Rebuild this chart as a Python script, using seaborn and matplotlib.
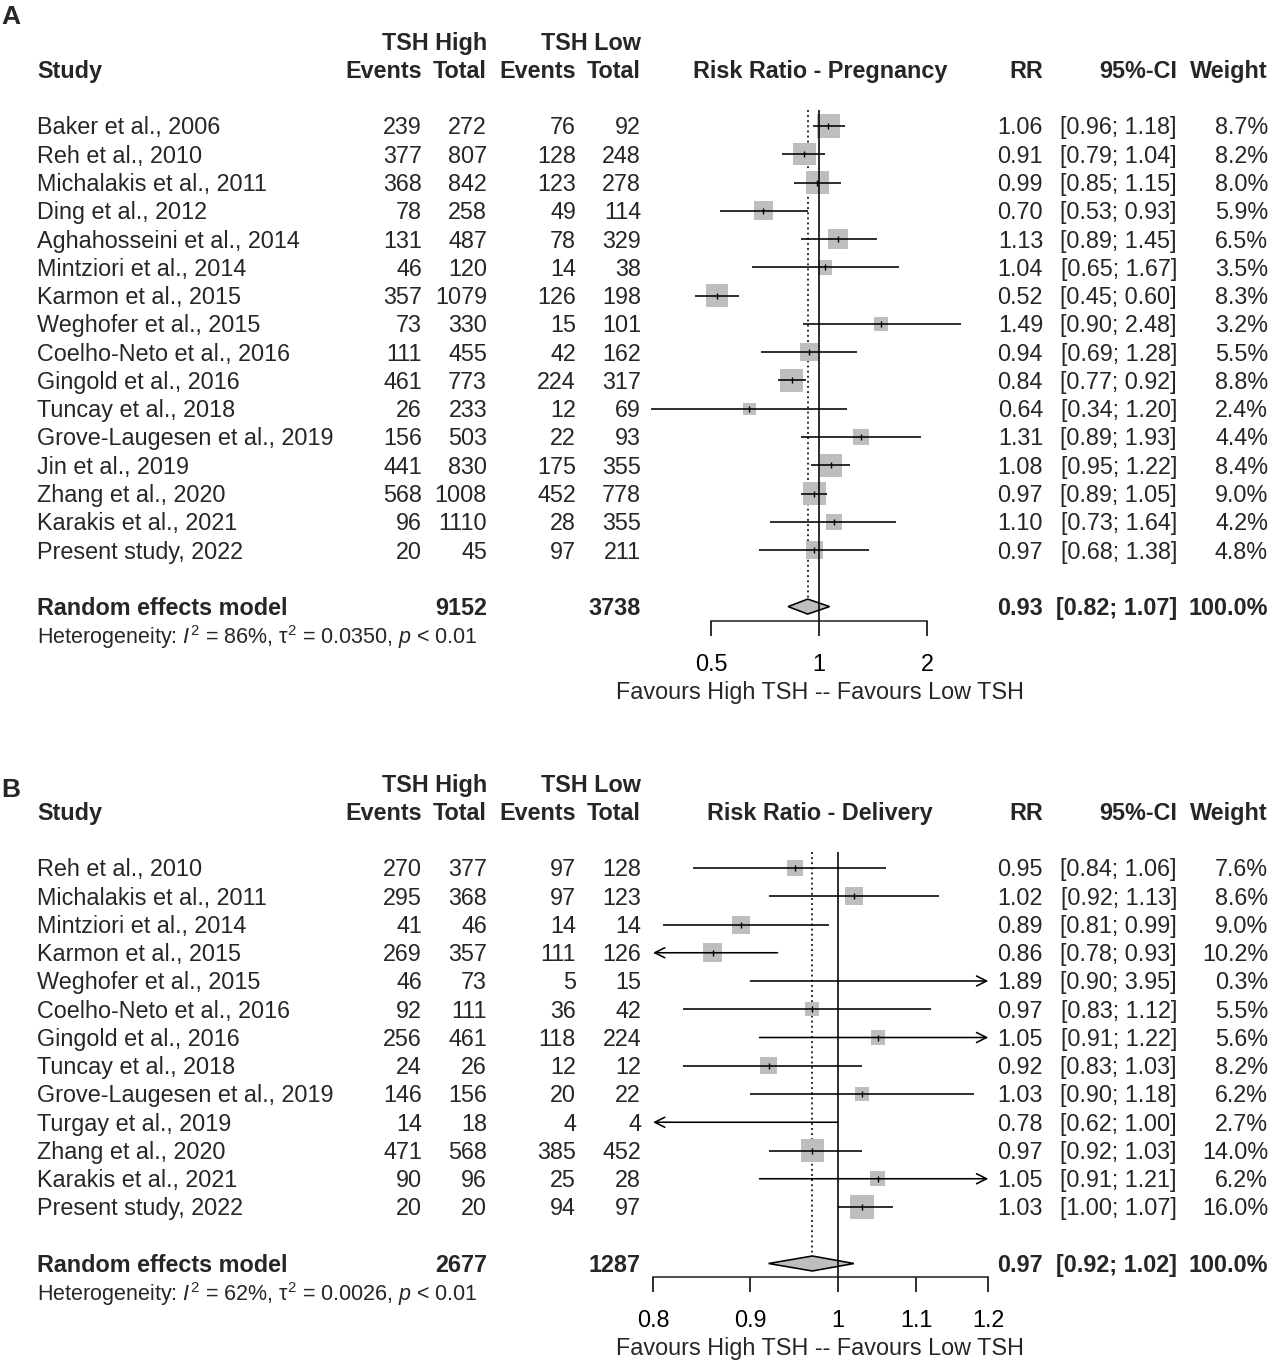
import numpy as np
import pandas as pd
import matplotlib
matplotlib.use("Agg")
import matplotlib.pyplot as plt
import matplotlib.transforms as mtransforms
from matplotlib.ticker import NullLocator, FixedLocator, FixedFormatter
import seaborn as sns

# ---- Panel A: pregnancy ----
studies_a = ["Baker et al., 2006", "Reh et al., 2010", "Michalakis et al., 2011", "Ding et al., 2012",
             "Aghahosseini et al., 2014", "Mintziori et al., 2014", "Karmon et al., 2015",
             "Weghofer et al., 2015", "Coelho-Neto et al., 2016", "Gingold et al., 2016",
             "Tuncay et al., 2018", "Grove-Laugesen et al., 2019", "Jin et al., 2019",
             "Zhang et al., 2020", "Karakis et al., 2021", "Present study, 2022"]
ev_high_a = [239, 377, 368, 78, 131, 46, 357, 73, 111, 461, 26, 156, 441, 568, 96, 20]
tot_high_a = [272, 807, 842, 258, 487, 120, 1079, 330, 455, 773, 233, 503, 830, 1008, 1110, 45]
ev_low_a = [76, 128, 123, 49, 78, 14, 126, 15, 42, 224, 12, 22, 175, 452, 28, 97]
tot_low_a = [92, 248, 278, 114, 329, 38, 198, 101, 162, 317, 69, 93, 355, 778, 355, 211]
rr_a = [1.06, 0.91, 0.99, 0.70, 1.13, 1.04, 0.52, 1.49, 0.94, 0.84, 0.64, 1.31, 1.08, 0.97, 1.10, 0.97]
lo_a = [0.96, 0.79, 0.85, 0.53, 0.89, 0.65, 0.45, 0.90, 0.69, 0.77, 0.34, 0.89, 0.95, 0.89, 0.73, 0.68]
hi_a = [1.18, 1.04, 1.15, 0.93, 1.45, 1.67, 0.60, 2.48, 1.28, 0.92, 1.20, 1.93, 1.22, 1.05, 1.64, 1.38]
weight_a = [8.7, 8.2, 8.0, 5.9, 6.5, 3.5, 8.3, 3.2, 5.5, 8.8, 2.4, 4.4, 8.4, 9.0, 4.2, 4.8]
pooled_a = {"n_high": 9152, "n_low": 3738, "rr": 0.93, "lo": 0.82, "hi": 1.07}
het_a = r"Heterogeneity: $I^2$ = 86%, τ$^2$ = 0.0350, $p$ < 0.01"
ticks_a = [0.5, 1, 2]
tick_labels_a = ["0.5", "1", "2"]

# ---- Panel B: delivery ----
studies_b = ["Reh et al., 2010", "Michalakis et al., 2011", "Mintziori et al., 2014", "Karmon et al., 2015",
             "Weghofer et al., 2015", "Coelho-Neto et al., 2016", "Gingold et al., 2016",
             "Tuncay et al., 2018", "Grove-Laugesen et al., 2019", "Turgay et al., 2019",
             "Zhang et al., 2020", "Karakis et al., 2021", "Present study, 2022"]
ev_high_b = [270, 295, 41, 269, 46, 92, 256, 24, 146, 14, 471, 90, 20]
tot_high_b = [377, 368, 46, 357, 73, 111, 461, 26, 156, 18, 568, 96, 20]
ev_low_b = [97, 97, 14, 111, 5, 36, 118, 12, 20, 4, 385, 25, 94]
tot_low_b = [128, 123, 14, 126, 15, 42, 224, 12, 22, 4, 452, 28, 97]
rr_b = [0.95, 1.02, 0.89, 0.86, 1.89, 0.97, 1.05, 0.92, 1.03, 0.78, 0.97, 1.05, 1.03]
lo_b = [0.84, 0.92, 0.81, 0.78, 0.90, 0.83, 0.91, 0.83, 0.90, 0.62, 0.92, 0.91, 1.00]
hi_b = [1.06, 1.13, 0.99, 0.93, 3.95, 1.12, 1.22, 1.03, 1.18, 1.00, 1.03, 1.21, 1.07]
weight_b = [7.6, 8.6, 9.0, 10.2, 0.3, 5.5, 5.6, 8.2, 6.2, 2.7, 14.0, 6.2, 16.0]
pooled_b = {"n_high": 2677, "n_low": 1287, "rr": 0.97, "lo": 0.92, "hi": 1.02}
het_b = r"Heterogeneity: $I^2$ = 62%, τ$^2$ = 0.0026, $p$ < 0.01"
ticks_b = [0.8, 0.9, 1, 1.1, 1.2]
tick_labels_b = ["0.8", "0.9", "1", "1.1", "1.2"]

W, H = 1273, 1363
FS = 16.8
GREY = "#BEBEBE"
LW = 1.15

sns.set_theme(style="ticks")
plt.rcParams["font.family"] = ["Liberation Sans", "DejaVu Sans"]
plt.rcParams["mathtext.fontset"] = "custom"
plt.rcParams["mathtext.rm"] = "Liberation Sans"
plt.rcParams["mathtext.it"] = "Liberation Sans:italic"
plt.rcParams["mathtext.bf"] = "Liberation Sans:bold"

fig = plt.figure(figsize=(W / 100, H / 100), dpi=100)
fig.patch.set_facecolor("white")

# background axes in pixel coordinates for text columns
bg = fig.add_axes([0, 0, 1, 1])
bg.set_xlim(0, W)
bg.set_ylim(H, 0)
bg.axis("off")


def px_axes(x0, x1, y0, y1):
    return fig.add_axes([x0 / W, 1 - y1 / H, (x1 - x0) / W, (y1 - y0) / H])


def draw_panel(letter, letter_y, title, studies, ev_h, tot_h, ev_l, tot_l, rr, lo, hi, wt,
               pooled, het, ticks, tick_labels, xlim, ax_px, row0, dy, box_side):
    n = len(studies)
    y_top = ax_px[2]
    y_bot = ax_px[3]
    ax = px_axes(*ax_px)
    ax.set_xscale("log")
    ax.set_xlim(*xlim)
    ax.set_ylim((y_bot - row0) / dy, (y_top - row0) / dy)
    ax.patch.set_alpha(0)
    for s in ["top", "left", "right"]:
        ax.spines[s].set_visible(False)
    ax.spines["bottom"].set_bounds(ticks[0], ticks[-1])
    ax.spines["bottom"].set_linewidth(LW)
    ax.xaxis.set_major_locator(FixedLocator(ticks))
    ax.xaxis.set_major_formatter(FixedFormatter(tick_labels))
    ax.xaxis.set_minor_locator(NullLocator())
    ax.tick_params(axis="x", direction="out", length=10.8, width=LW, pad=12.3,
                   labelsize=FS, colors="black")
    ax.set_yticks([])

    rows = np.arange(n)
    df = pd.DataFrame({"rr": rr, "lo": lo, "hi": hi, "w": wt, "row": rows})
    inside = df[(df.rr >= xlim[0]) & (df.rr <= xlim[1])]

    # squares, area proportional to weight
    smax = (box_side * 0.72) ** 2
    sns.scatterplot(data=inside, x="rr", y="row", size="w", sizes=(0, smax),
                    size_norm=(0, df.w.max()), marker="s", color=GREY, edgecolor="none",
                    linewidth=0, legend=False, ax=ax, zorder=2)
    ax.set_xlabel("")
    ax.set_ylabel("")

    # confidence intervals, arrows when clipped
    arrow = dict(arrowstyle="->,head_length=0.6,head_width=0.3", lw=LW, color="black",
                 shrinkA=0, shrinkB=0)
    for _, r in df.iterrows():
        a = max(r.lo, xlim[0])
        b = min(r.hi, xlim[1])
        if r.lo < xlim[0]:
            ax.annotate("", xy=(a, r.row), xytext=(b, r.row), arrowprops=arrow,
                        zorder=3, annotation_clip=False)
        elif r.hi > xlim[1]:
            ax.annotate("", xy=(b, r.row), xytext=(a, r.row), arrowprops=arrow,
                        zorder=3, annotation_clip=False)
        else:
            ax.hlines(r.row, a, b, color="black", lw=LW, zorder=3)
    ax.plot(inside.rr, inside.row, linestyle="none", marker="|", ms=5, mew=1.0,
            color="black", zorder=4)

    # pooled estimate
    prow = n + 1
    h = 7.5 / dy
    ax.fill([pooled["lo"], pooled["rr"], pooled["hi"], pooled["rr"]],
            [prow, prow - h, prow, prow + h], facecolor=GREY, edgecolor="black",
            lw=LW, zorder=2)
    ytop = (y_top - row0) / dy
    ax.vlines(pooled["rr"], ytop, prow - h, color="black", lw=LW,
              linestyles=(0, (1.2, 2.0)), zorder=1)
    ax.axvline(1, color="black", lw=LW, zorder=5)

    # text columns (small downward nudge to match the reference baselines)
    off = 0.07
    tr = mtransforms.blended_transform_factory(bg.transData, ax.transData)
    kw = dict(transform=tr, fontsize=FS, va="center", clip_on=False)
    bg.text(1, letter_y, letter, fontsize=19, fontweight="bold", va="center", ha="left")
    bg.text(487, -3 + off, "TSH High", ha="right", fontweight="bold", **kw)
    bg.text(641, -3 + off, "TSH Low", ha="right", fontweight="bold", **kw)
    bg.text(37, -2 + off, "Study", ha="left", fontweight="bold", **kw)
    for xp, lab in [(422, "Events"), (487, "Total"), (576, "Events"), (641, "Total"),
                    (1043, "RR"), (1177, "95%-CI"), (1268, "Weight")]:
        bg.text(xp, -2 + off, lab, ha="right", fontweight="bold", **kw)
    bg.text(820, -2 + off, title, ha="center", fontweight="bold", **kw)

    for i in range(n):
        y = i + off
        bg.text(37, y, studies[i], ha="left", **kw)
        bg.text(422, y, f"{ev_h[i]}", ha="right", **kw)
        bg.text(487, y, f"{tot_h[i]}", ha="right", **kw)
        bg.text(576, y, f"{ev_l[i]}", ha="right", **kw)
        bg.text(641, y, f"{tot_l[i]}", ha="right", **kw)
        bg.text(1043, y, f"{rr[i]:.2f}", ha="right", **kw)
        bg.text(1177, y, f"[{lo[i]:.2f}; {hi[i]:.2f}]", ha="right", **kw)
        bg.text(1268, y, f"{wt[i]:.1f}%", ha="right", **kw)

    y = prow + off
    bg.text(37, y, "Random effects model", ha="left", fontweight="bold", **kw)
    bg.text(487, y, f"{pooled['n_high']}", ha="right", fontweight="bold", **kw)
    bg.text(641, y, f"{pooled['n_low']}", ha="right", fontweight="bold", **kw)
    bg.text(1043, y, f"{pooled['rr']:.2f}", ha="right", fontweight="bold", **kw)
    bg.text(1177, y, f"[{pooled['lo']:.2f}; {pooled['hi']:.2f}]", ha="right",
            fontweight="bold", **kw)
    bg.text(1268, y, "100.0%", ha="right", fontweight="bold", **kw)
    bg.text(37, prow + 1 + off, het, transform=tr, fontsize=15.5, va="center", ha="left")

    # x label below the tick labels
    bg.text(820, y_bot + 71.5, "Favours High TSH -- Favours Low TSH", ha="center",
            va="center", fontsize=FS)
    return ax


draw_panel("A", 17, "Risk Ratio - Pregnancy", studies_a, ev_high_a, tot_high_a, ev_low_a,
           tot_low_a, rr_a, lo_a, hi_a, weight_a, pooled_a, het_a, ticks_a, tick_labels_a,
           xlim=(0.3, 3.0), ax_px=(631.4, 990.2, 110, 621), row0=126, dy=28.27, box_side=23.5)

draw_panel("B", 790, "Risk Ratio - Delivery", studies_b, ev_high_b, tot_high_b, ev_low_b,
           tot_low_b, rr_b, lo_b, hi_b, weight_b, pooled_b, het_b, ticks_b, tick_labels_b,
           xlim=(0.8, 1.2), ax_px=(653, 988.3, 852, 1277), row0=868, dy=28.25, box_side=24)

fig.savefig("out.png", dpi=100, facecolor="white")
